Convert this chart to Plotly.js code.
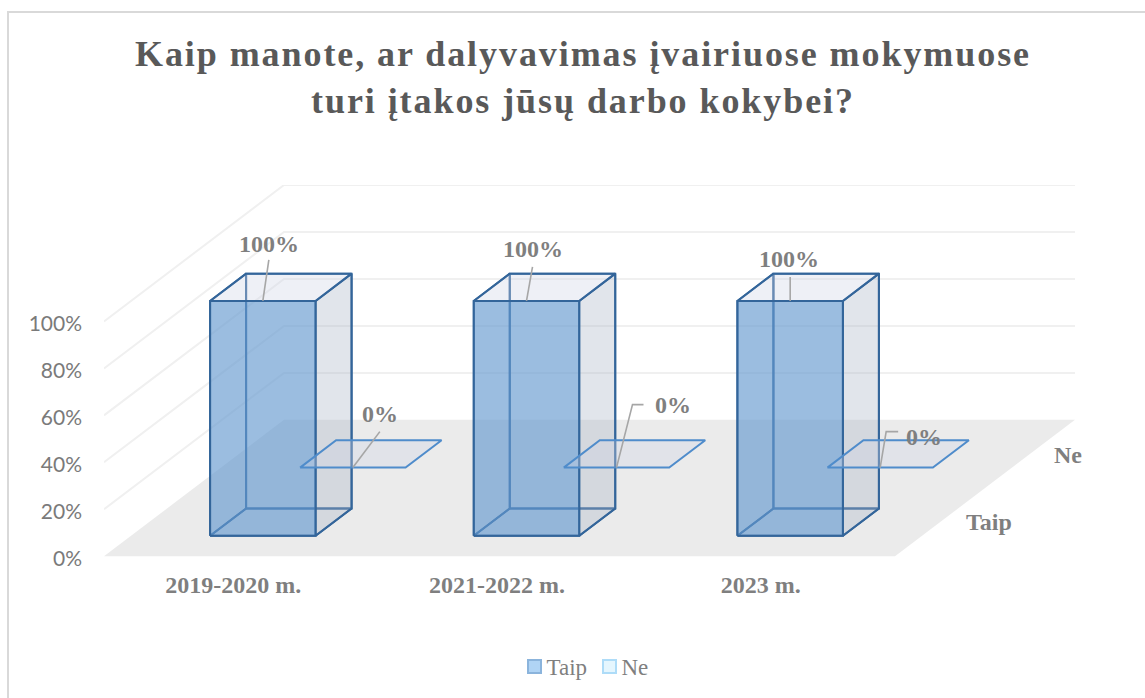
<!DOCTYPE html>
<html>
<head>
<meta charset="utf-8">
<script src="https://cdn.plot.ly/plotly-3.0.1.min.js"></script>
<style>
html,body{margin:0;padding:0;background:#fff;}
#chart{width:1145px;height:698px;}
.gtitle{letter-spacing:1.93px;}
.legend .legendpoints{transform:translateX(8px);}
</style>
</head>
<body>
<div id="chart"></div>
<script>
// ---- data ----
const categories = ["2019-2020 m.", "2021-2022 m.", "2023 m."];
const seriesNames = ["Taip", "Ne"];
const taip = [100, 100, 100];
const ne = [0, 0, 0];
const valueTicks = [0, 20, 40, 60, 80, 100];
const chartTitle = "Kaip manote, ar dalyvavimas įvairiuose mokymuose<br>turi įtakos jūsų darbo kokybei?";

// ---- oblique projection of the Excel 3-D frame onto plain 2-D axes ----
const PX_PER_CAT = 263.67, PX_PER_VAL = 2.35;
const DEPTH_PX_X = 180, DEPTH_PX_Y = 136.5;
const LEFT = 104, BOTTOM = 556.7, W = 1145, H = 698;
const dx = DEPTH_PX_X / PX_PER_CAT, dy = DEPTH_PX_Y / PX_PER_VAL;
const project = (c, v, t) => [c + t * dx, v + t * dy];

function poly(points, fill, line, width) {
  const p = points.map(q => project(q[0], q[1], q[2]));
  return {
    type: "scatter", mode: line ? "lines" : "none",
    x: p.map(q => q[0]), y: p.map(q => q[1]),
    fill: fill ? "toself" : "none", fillcolor: fill || undefined,
    line: {color: line || "rgba(0,0,0,0)", width: width || 0, simplify: false},
    hoverinfo: "skip", showlegend: false
  };
}
const traces = [];
const nCat = categories.length;

// floor
traces.push(poly([[0,0,0],[nCat,0,0],[nCat,0,1],[0,0,1],[0,0,0]], "#ebebeb"));
// gridlines along the left wall and back wall
valueTicks.filter(v => v > 0).forEach(v => {
  traces.push(poly([[0,v,0],[0,v,1],[nCat,v,1]], null, "#f0f0f0", 2));
});

// boxes
const BAR_W = 0.4, BAR_D = 0.2;
const boxStyle = [
  {line:"#33659a", width:2, front:"rgba(101,154,208,0.65)"},
  {line:"#4f8ccb", width:2, front:"rgba(101,154,208,0.65)"}
];
function box(cat, s, val) {
  const c0 = cat + 0.5 - BAR_W/2, c1 = c0 + BAR_W;
  const t0 = (s + 0.5)/seriesNames.length - BAR_D/2, t1 = t0 + BAR_D;
  const st = boxStyle[s];
  const side = "rgba(169,181,198,0.35)", topF = "rgba(205,212,228,0.35)";
  if (val > 0) {
    // back, left, bottom, right
    traces.push(poly([[c0,0,t1],[c1,0,t1],[c1,val,t1],[c0,val,t1],[c0,0,t1]], null, st.line, st.width));
    traces.push(poly([[c0,0,t0],[c0,0,t1],[c0,val,t1],[c0,val,t0],[c0,0,t0]], null, st.line, st.width));
    traces.push(poly([[c0,0,t0],[c1,0,t0],[c1,0,t1],[c0,0,t1],[c0,0,t0]], null, st.line, st.width));
    traces.push(poly([[c1,0,t0],[c1,0,t1],[c1,val,t1],[c1,val,t0],[c1,0,t0]], side, st.line, st.width));
  }
  // top
  traces.push(poly([[c0,val,t0],[c1,val,t0],[c1,val,t1],[c0,val,t1],[c0,val,t0]], topF, st.line, st.width));
  if (val > 0) {
    traces.push(poly([[c0,0,t0],[c1,0,t0],[c1,val,t0],[c0,val,t0],[c0,0,t0]], st.front, st.line, st.width));
  }
}
[taip, ne].forEach((vals, s) => vals.forEach((v, c) => box(c, s, v)));

// data-label leaders: pixel offsets from each box's front-top edge centre
const leaderOffsets = {
  "0,0": [[0,0],[6,-41]],
  "0,1": [[0,0],[6,-34]],
  "0,2": [[0,0],[0,-24]],
  "1,0": [[0,0],[27,-36]],
  "1,1": [[0,0],[16,-63],[27,-63]],
  "1,2": [[0,0],[6,-36],[18,-36]]
};
const labelOffsets = {
  "0,0": [6,-57],
  "0,1": [6,-52],
  "0,2": [-1,-42],
  "1,0": [27,-54],
  "1,1": [56,-63],
  "1,2": [44,-31]
};
const anns = [];
const valueLabelFont = {family:"Liberation Serif", size:24, color:"#7f7f7f", weight:700};
[taip, ne].forEach((vals, s) => vals.forEach((v, c) => {
  const t0 = (s + 0.5)/seriesNames.length - BAR_D/2;
  const a = project(c + 0.5, v, t0);
  const off = leaderOffsets[s + "," + c];
  traces.push({
    type:"scatter", mode:"lines",
    x: off.map(o => a[0] + o[0]/PX_PER_CAT),
    y: off.map(o => a[1] - o[1]/PX_PER_VAL),
    line:{color:"#a6a6a6", width:1.6}, hoverinfo:"skip", showlegend:false
  });
  const lo = labelOffsets[s + "," + c];
  anns.push({x:a[0], y:a[1], xref:"x", yref:"y", text:v + "%", showarrow:false,
    xanchor:"center", yanchor:"middle", xshift:lo[0], yshift:-lo[1], font:valueLabelFont});
}));

// depth-axis labels
const depthShift = [[49,0], [38,-1]];
seriesNames.forEach((n, s) => {
  const a = project(nCat, 0, (s + 0.5)/seriesNames.length);
  anns.push({x:a[0], y:a[1], xref:"x", yref:"y", text:n, showarrow:false,
    xanchor:"center", yanchor:"middle", xshift:depthShift[s][0], yshift:depthShift[s][1],
    font:{family:"Liberation Serif", size:24, color:"#7f7f7f", weight:700}});
});

// legend-only markers
const legendFill = ["#b0d4f5", "#e5f6fe"], legendLine = ["#8bb4dc", "#aedcf8"];
seriesNames.forEach((n, s) => traces.push({
  type:"scatter", mode:"markers", name:n, x:[null], y:[null],
  marker:{symbol:"square", size:13, color:legendFill[s], line:{color:legendLine[s], width:2}},
  hoverinfo:"skip", showlegend:true
}));

const plotRight = LEFT + nCat*PX_PER_CAT + DEPTH_PX_X;
const plotTop = BOTTOM - 100*PX_PER_VAL - DEPTH_PX_Y;
const plotW = plotRight - LEFT, plotH = BOTTOM - plotTop;
const LABEL_NUDGE_X = 2.5 / PX_PER_CAT, LABEL_NUDGE_Y = 2.2 / PX_PER_VAL;
const layout = {
  width:W, height:H, paper_bgcolor:"#fff", plot_bgcolor:"rgba(0,0,0,0)",
  margin:{l:LEFT, r:W-plotRight, t:plotTop, b:H-BOTTOM, pad:0, autoexpand:false},
  title:{text:chartTitle, x:583/W, xanchor:"center", xref:"container",
         y:1-66/H, yanchor:"top", yref:"container",
         font:{family:"Liberation Serif", size:36, color:"#595959", weight:700}},
  xaxis:{range:[0, plotW/PX_PER_CAT], tickmode:"array",
         tickvals:categories.map((_, i) => i + 0.5 - LABEL_NUDGE_X), ticktext:categories,
         showgrid:false, zeroline:false, showline:false, ticks:"", fixedrange:true,
         ticklabelstandoff:12,
         tickfont:{family:"Liberation Serif", size:24, color:"#7f7f7f", weight:700}},
  yaxis:{range:[-5, plotH/PX_PER_VAL], domain:[0, 1], tickmode:"array",
         tickvals:valueTicks.map(v => v - LABEL_NUDGE_Y), ticktext:valueTicks.map(v => v + "%"),
         showgrid:false, zeroline:false, showline:false, ticks:"", fixedrange:true,
         ticklabelstandoff:21,
         tickfont:{family:"Lato", size:21, color:"#7a7a7a"}},
  legend:{orientation:"h", x:(581.5-LEFT)/plotW, xanchor:"center",
          y:-(667-BOTTOM)/plotH, yanchor:"middle",
          font:{family:"Liberation Serif", size:23, color:"#7f7f7f"},
          itemwidth:30, entrywidth:30, entrywidthmode:"pixels",
          itemclick:false, itemdoubleclick:false, bgcolor:"rgba(0,0,0,0)"},
  annotations:anns,
  shapes:[{type:"rect", xref:"paper", yref:"paper", layer:"below",
           x0:(8-LEFT)/plotW, x1:(1160-LEFT)/plotW,
           y0:(BOTTOM-720)/plotH, y1:(BOTTOM-12)/plotH,
           line:{color:"#d9d9d9", width:2}, fillcolor:"rgba(0,0,0,0)"}],
  showlegend:true
};
// extend the plot area 5 value-units below zero so the nudged 0% label stays in range,
// keeping the pixel position of value 0 unchanged
layout.margin.b -= 5 * PX_PER_VAL;
const extendedH = plotH + 5 * PX_PER_VAL;
layout.legend.y = -(667 - (BOTTOM + 5 * PX_PER_VAL)) / extendedH;
layout.shapes[0].y0 = (BOTTOM + 5 * PX_PER_VAL - 720) / extendedH;
layout.shapes[0].y1 = (BOTTOM + 5 * PX_PER_VAL - 12) / extendedH;
layout.xaxis.ticklabelstandoff = 12 - 5 * PX_PER_VAL;
Plotly.newPlot("chart", traces, layout, {displayModeBar:false, responsive:false});
</script>
</body>
</html>
